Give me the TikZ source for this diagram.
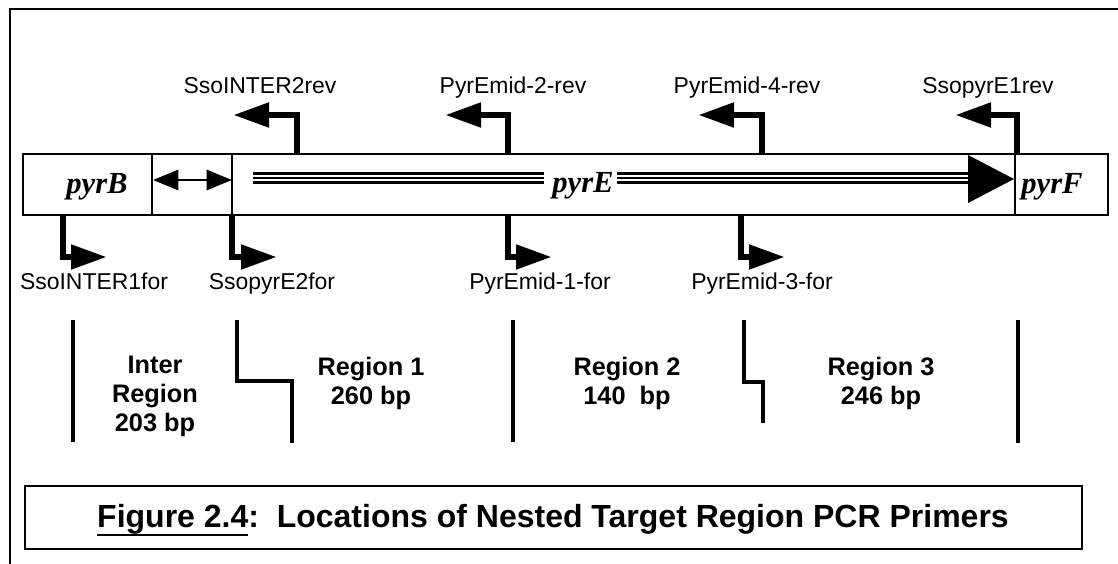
\documentclass[tikz,border=0pt]{standalone}
\usepackage{fontspec}
\setmainfont{Liberation Serif}
\setsansfont{Liberation Sans}
\usetikzlibrary{arrows.meta}
% underline drawn as a rule of fixed depth and thickness
\newcommand\figul[1]{\setbox0\hbox{#1}\rlap{\rule[-6.6pt]{\wd0}{1.5pt}}\box0}

\begin{document}
\begin{tikzpicture}[x=0.75pt,y=-0.75pt,
  frame/.style={line width=1.5pt, line join=miter},
  genebox/.style={draw, line width=1.4pt, inner sep=0pt, minimum height=45.75pt},
  genename/.style={font=\bfseries\itshape\fontsize{23pt}{27pt}\selectfont, anchor=base, inner sep=0pt},
  primerlabel/.style={font=\sffamily\fontsize{17.2pt}{20pt}\selectfont, anchor=base, inner sep=0pt},
  primer/.style={line width=5.2pt, line join=miter, -{Triangle[length=27pt,width=17.5pt]}},
  strand/.style={line width=2.2pt},
  span/.style={line width=2.2pt, {Triangle[length=19pt,width=15pt]}-{Triangle[length=19pt,width=15pt]}},
  regline/.style={line width=2.8pt, line join=miter},
  regionlabel/.style={font=\sffamily\bfseries\fontsize{19pt}{21.75pt}\selectfont, align=center, anchor=north, inner sep=0pt},
  capbox/.style={draw, line width=1.4pt, inner sep=0pt, minimum width=792.75pt, minimum height=47.25pt},
  captext/.style={font=\sffamily\bfseries\fontsize{24pt}{28pt}\selectfont, anchor=base, inner sep=0pt}
]
\useasboundingbox (0,0) rectangle (1118,564);

% outer frame
\draw[frame] (10,564) -- (10,9) -- (1118,9);

% gene map
\node[genebox, minimum width=96.75pt] (pyrB) at (87.5,184.5) {};
\node[genebox, minimum width=60pt] (igr) at (192,184.5) {};
\node[genebox, minimum width=587.25pt] (pyrE) at (623.5,184.5) {};
\node[genebox, minimum width=69.75pt] (pyrF) at (1061.5,184.5) {};

\node[genename] (tB) at (97,193) {pyrB};
\node[genename] (tE) at (583,192) {pyrE};
\node[genename] (tF) at (1052,193) {pyrF};

% coding strand of pyrE
\foreach \y in {173.5,178,182.5} {
  \draw[strand] (253,\y) -- (544,\y);
  \draw[strand] (617,\y) -- (968,\y);
}
\fill (968,155) -- (1014,179) -- (968,203) -- cycle;

% intergenic span
\coordinate (igrL) at (153,180);
\coordinate (igrR) at (232,180);
\draw[span] (igrL) -- (igrR);

% reverse primers
\coordinate (r1s) at (297,154);  \coordinate (r1t) at (233,115);
\coordinate (r2s) at (508,154);  \coordinate (r2t) at (445,115);
\coordinate (r3s) at (762,154);  \coordinate (r3t) at (698,115);
\coordinate (r4s) at (1017,154); \coordinate (r4t) at (955,115);
\draw[primer] (r1s) |- (r1t);
\draw[primer] (r2s) |- (r2t);
\draw[primer] (r3s) |- (r3t);
\draw[primer] (r4s) |- (r4t);
\node[primerlabel] (lr1) at (260,93) {SsoINTER2rev};
\node[primerlabel] (lr2) at (513,93) {PyrEmid-2-rev};
\node[primerlabel] (lr3) at (747,93) {PyrEmid-4-rev};
\node[primerlabel] (lr4) at (988,93) {SsopyrE1rev};

% forward primers
\coordinate (f1s) at (63,215);  \coordinate (f1t) at (107,257);
\coordinate (f2s) at (232,215); \coordinate (f2t) at (277,257);
\coordinate (f3s) at (508,215); \coordinate (f3t) at (552,257);
\coordinate (f4s) at (741,215); \coordinate (f4t) at (785,257);
\draw[primer] (f1s) |- (f1t);
\draw[primer] (f2s) |- (f2t);
\draw[primer] (f3s) |- (f3t);
\draw[primer] (f4s) |- (f4t);
\node[primerlabel] (lf1) at (94,289) {SsoINTER1for};
\node[primerlabel] (lf2) at (272,289) {SsopyrE2for};
\node[primerlabel] (lf3) at (540,289) {PyrEmid-1-for};
\node[primerlabel] (lf4) at (762,289) {PyrEmid-3-for};

% region boundaries
\draw[regline] (73,320) -- (73,442);
\draw[regline] (237,320) -- (237,381) -- (292,381) -- (292,443);
\draw[regline] (513,320) -- (513,442);
\draw[regline] (744,320) -- (744,382) -- (763,382) -- (763,423);
\draw[regline] (1018,320) -- (1018,443);

\node[regionlabel] (g0) at (155,356) {Inter\\Region\\203 bp};
\node[regionlabel] (g1) at (371,357) {Region 1\\260 bp};
\node[regionlabel] (g2) at (627,357) {Region 2\\140\ \ bp};
\node[regionlabel] (g3) at (881,357) {Region 3\\246 bp};

% caption
\node[capbox] (cap) at (553.5,517.5) {};
\node[captext] (capt) at (553,527) {\figul{Figure 2.4}:\ \ Locations of Nested Target Region PCR Primers};
\end{tikzpicture}
\end{document}
